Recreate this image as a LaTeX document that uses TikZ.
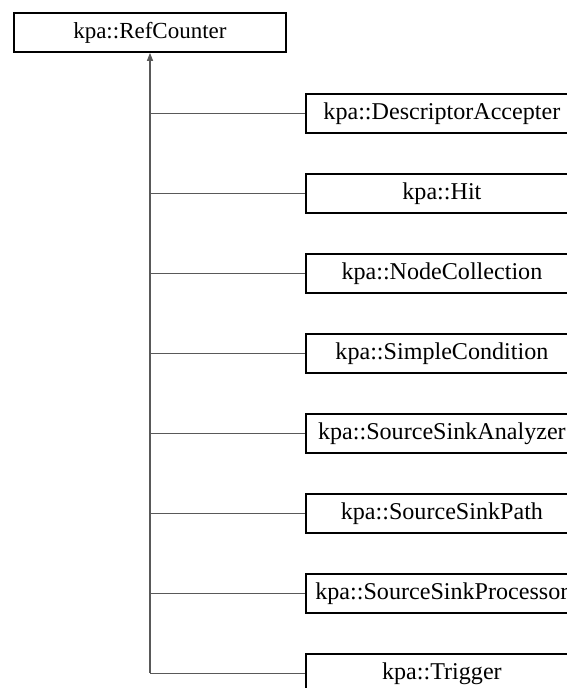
\documentclass[tikz,border=0pt]{standalone}
\usepackage{fontspec}
\setmainfont{Liberation Serif}
\usetikzlibrary{arrows.meta}
\begin{document}
\begin{tikzpicture}[x=1pt,y=-1pt,
  box/.style={draw=black, line width=1.8pt, minimum width=272pt, minimum height=39pt, inner sep=0pt,
    font=\fontsize{23}{27}\selectfont, anchor=north west},
  child/.style={box, font=\fontsize{24.1}{29}\selectfont},
  conn/.style={draw=black!65, line width=1.1pt}]
\useasboundingbox (0,0) rectangle (567,688);
\node[box] (base) at (13,12) {kpa::RefCounter};
\node[child] (c1) at (305,93) {kpa::DescriptorAccepter};
\node[child] (c2) at (305,173) {kpa::Hit};
\node[child] (c3) at (305,253) {kpa::NodeCollection};
\node[child] (c4) at (305,333) {kpa::SimpleCondition};
\node[child] (c5) at (305,413) {kpa::SourceSinkAnalyzer};
\node[child] (c6) at (305,493) {kpa::SourceSinkPath};
\node[child] (c7) at (305,573) {kpa::SourceSinkProcessor};
\node[child] (c8) at (305,653) {kpa::Trigger};
\coordinate (trunk) at (150,672.5);
\draw[conn, -{Triangle[width=6pt,length=8pt]}] (trunk) -- (trunk |- base.south);
\foreach \c in {c1,c2,c3,c4,c5,c6,c7,c8}
  \draw[conn] (\c.west) -- (\c.west -| trunk);
\end{tikzpicture}
\end{document}
